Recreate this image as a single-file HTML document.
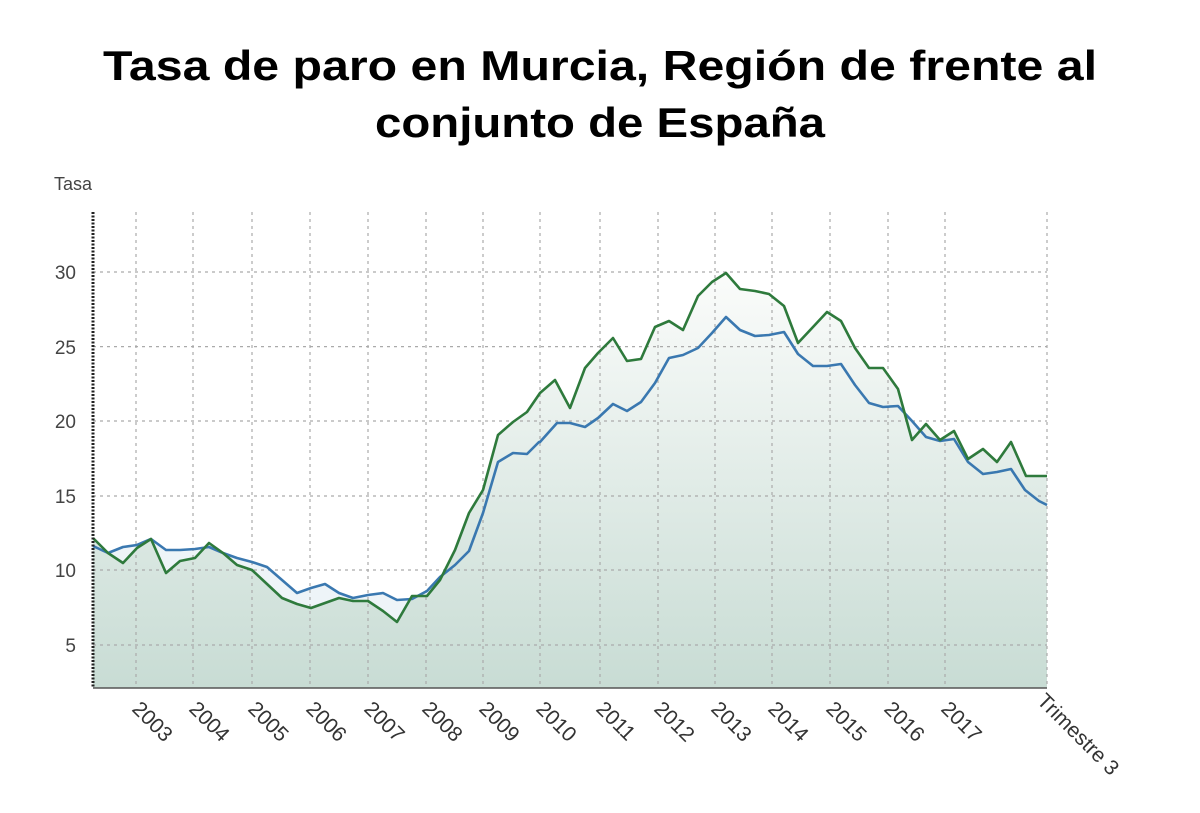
<!DOCTYPE html>
<html><head><meta charset="utf-8"><style>
body{margin:0;background:#fff;width:1200px;height:808px;overflow:hidden;font-family:"Liberation Sans",sans-serif}
</style></head><body>
<svg width="1200" height="808" xmlns="http://www.w3.org/2000/svg">
<defs>
<linearGradient id="g" x1="0" y1="270" x2="0" y2="688" gradientUnits="userSpaceOnUse">
<stop offset="0" stop-color="#fbfcfb"/><stop offset="1" stop-color="#c8dcd4"/></linearGradient>
<clipPath id="c"><rect x="0" y="0" width="1136" height="808"/></clipPath>
</defs>
<text x="103" y="80" textLength="994" lengthAdjust="spacingAndGlyphs" font-size="42" font-weight="bold" fill="#000">Tasa de paro en Murcia, Región de frente al</text>
<text x="375" y="137" textLength="450" lengthAdjust="spacingAndGlyphs" font-size="42" font-weight="bold" fill="#000">conjunto de España</text>
<text x="54" y="190" font-size="18" fill="#444">Tasa</text>
<path d="M93,546 L108,553 123,547 137,545 151,539 166,550 180,550 195,549 209,547 223,553 237,558 252,562 267,567 282,580 297,593 311,588 325,584 339,593 353,598 368,595 383,593 397,600 412,599 427,591 440,577 455,565 469,551 483,513 498,462 513,453 527,454 539,442 540,442 557,423 570,423 585,427 598,418 613,404 627,411 641,402 655,383 669,358 683,355 698,348 712,333 726,317 740,330 755,336 769,335 784,332 798,354 813,366 827,366 841,364 855,385 869,403 883,407 898,406 912,421 926,437 940,441 954,439 968,462 983,474 997,472 1011,469 1025,490 1039,501 1047,505 L1047,688 L93,688 Z" fill="#eef4f8"/>
<path d="M93,538 L108,553 123,563 137,548 151,539 166,573 180,561 195,558 209,543 223,553 237,565 252,570 267,584 282,598 297,604 311,608 325,603 339,598 353,601 368,601 383,611 397,622 412,596 427,596 440,580 455,550 469,513 483,490 498,435 513,422 527,412 540,393 555,380 570,408 585,368 598,353 613,338 627,361 641,359 655,327 669,321 683,330 698,296 712,282 726,273 740,289 755,291 769,294 784,306 798,343 813,327 827,312 841,321 855,348 869,368 883,368 898,389 912,440 926,424 940,440 954,431 968,459 983,449 997,462 1011,442 1026,476 1047,476 L1047,688 L93,688 Z" fill="url(#g)"/>
<g stroke="#aaa" stroke-width="1.2" stroke-dasharray="3,4" fill="none">
<path d="M93,272H1047M93,346.6H1047M93,421H1047M93,496H1047M93,570H1047M93,645H1047"/>
<path d="M136,212V688M193,212V688M252,212V688M310,212V688M368,212V688M426,212V688M483,212V688M540,212V688M600,212V688M658,212V688M715,212V688M772,212V688M830,212V688M888,212V688M945,212V688M1047,212V688"/>
</g>
<path d="M93,546 L108,553 123,547 137,545 151,539 166,550 180,550 195,549 209,547 223,553 237,558 252,562 267,567 282,580 297,593 311,588 325,584 339,593 353,598 368,595 383,593 397,600 412,599 427,591 440,577 455,565 469,551 483,513 498,462 513,453 527,454 539,442 540,442 557,423 570,423 585,427 598,418 613,404 627,411 641,402 655,383 669,358 683,355 698,348 712,333 726,317 740,330 755,336 769,335 784,332 798,354 813,366 827,366 841,364 855,385 869,403 883,407 898,406 912,421 926,437 940,441 954,439 968,462 983,474 997,472 1011,469 1025,490 1039,501 1047,505" fill="none" stroke="#3a78b0" stroke-width="2.6" stroke-linejoin="round"/>
<path d="M93,538 L108,553 123,563 137,548 151,539 166,573 180,561 195,558 209,543 223,553 237,565 252,570 267,584 282,598 297,604 311,608 325,603 339,598 353,601 368,601 383,611 397,622 412,596 427,596 440,580 455,550 469,513 483,490 498,435 513,422 527,412 540,393 555,380 570,408 585,368 598,353 613,338 627,361 641,359 655,327 669,321 683,330 698,296 712,282 726,273 740,289 755,291 769,294 784,306 798,343 813,327 827,312 841,321 855,348 869,368 883,368 898,389 912,440 926,424 940,440 954,431 968,459 983,449 997,462 1011,442 1026,476 1047,476" fill="none" stroke="#2e7a3c" stroke-width="2.6" stroke-linejoin="round"/>
<line x1="93" y1="688" x2="1047" y2="688" stroke="#555" stroke-width="1.5"/>
<line x1="93" y1="212" x2="93" y2="688" stroke="#222" stroke-width="3" stroke-dasharray="2,1.5"/>
<g font-size="19" fill="#444" text-anchor="end">
<text x="76" y="279">30</text><text x="76" y="354">25</text><text x="76" y="428">20</text><text x="76" y="503">15</text><text x="76" y="577">10</text><text x="76" y="652">5</text>
</g>
<g font-size="21" fill="#333" clip-path="url(#c)">
<text transform="translate(131,710) rotate(45)">2003</text>
<text transform="translate(188,710) rotate(45)">2004</text>
<text transform="translate(247,710) rotate(45)">2005</text>
<text transform="translate(305,710) rotate(45)">2006</text>
<text transform="translate(363,710) rotate(45)">2007</text>
<text transform="translate(421,710) rotate(45)">2008</text>
<text transform="translate(478,710) rotate(45)">2009</text>
<text transform="translate(535,710) rotate(45)">2010</text>
<text transform="translate(595,710) rotate(45)">2011</text>
<text transform="translate(653,710) rotate(45)">2012</text>
<text transform="translate(710,710) rotate(45)">2013</text>
<text transform="translate(767,710) rotate(45)">2014</text>
<text transform="translate(825,710) rotate(45)">2015</text>
<text transform="translate(883,710) rotate(45)">2016</text>
<text transform="translate(940,710) rotate(45)">2017</text>
<text transform="translate(1036,702) rotate(45)">Trimestre 3</text>
</g>
</svg>
</body></html>
